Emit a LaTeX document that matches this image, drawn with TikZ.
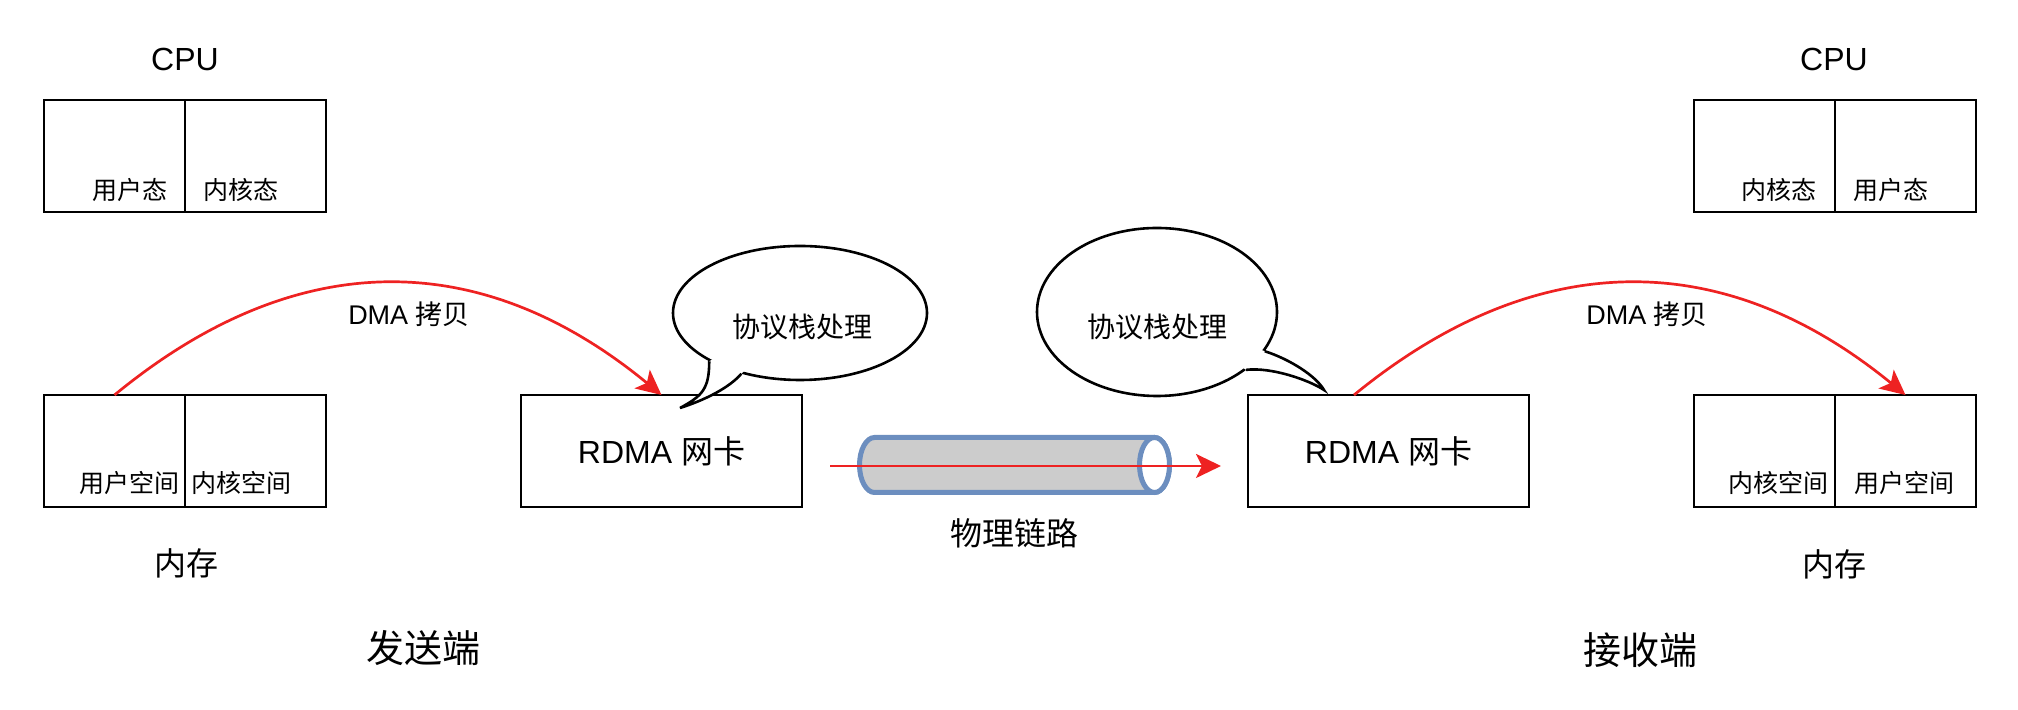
\documentclass[tikz,border=0pt]{standalone}
\usepackage{fontspec}
\setmainfont{Liberation Sans}
\newfontfamily\cjk{Noto Sans CJK SC}
\usepackage{tikz}
\usetikzlibrary{positioning, shapes.geometric, arrows.meta}

\definecolor{dmared}{RGB}{238,34,34}
\definecolor{pipeblue}{RGB}{108,142,191}
\definecolor{pipegray}{RGB}{204,204,204}

\newcommand{\fsz}[1]{\fontsize{#1}{#1}\selectfont}

\begin{document}
\begin{tikzpicture}[x=0.5pt, y=0.5pt,
        cell/.style={draw, line width=1.3pt, minimum width=70.5pt, minimum height=56pt, inner sep=0pt, outer sep=0pt},
        nic/.style={draw, line width=1.3pt, minimum width=140.5pt, minimum height=56pt, inner sep=0pt, outer sep=0pt, font={\fsz{16}}},
        small/.style={font={\fsz{12.5}\cjk}, inner sep=0pt},
        bubble/.style={ellipse, draw, fill=white, line width=1.3pt, inner sep=0pt},
        dma/.style={dmared, line width=1.35pt, -{Stealth[length=12.5pt, width=12pt, inset=3pt]}},
        tail/.style={line width=1.3pt}]
        \useasboundingbox (0,0) rectangle (2018,710);

        % Sender: CPU
        \node[cell] (cpuLu) at (114.5,554) {};
        \node[cell, right=0pt of cpuLu] (cpuLk) {};
        \node[font={\fsz{16}}] (cpuL) at (185,650) {CPU};
        \node[small] (cpuLuTxt) at (130,520) {用户态};
        \node[small] (cpuLkTxt) at (241,520) {内核态};

        % Sender: memory
        \node[cell] (memLu) at (114.5,259) {};
        \node[cell, right=0pt of memLu] (memLk) {};
        \node[small] (memLuTxt) at (129,227) {用户空间};
        \node[small] (memLkTxt) at (241,227) {内核空间};
        \node[font={\fsz{16}\cjk}] (memL) at (186,147) {内存};
        \node[font={\fsz{19}\cjk}] (sender) at (423,62) {发送端};

        % Receiver: CPU
        \node[cell] (cpuRk) at (1764.5,554) {};
        \node[cell, right=0pt of cpuRk] (cpuRu) {};
        \node[font={\fsz{16}}] (cpuR) at (1834,650) {CPU};
        \node[small] (cpuRkTxt) at (1779,520) {内核态};
        \node[small] (cpuRuTxt) at (1891,520) {用户态};

        % Receiver: memory
        \node[cell] (memRk) at (1764.5,259) {};
        \node[cell, right=0pt of memRk] (memRu) {};
        \node[small] (memRkTxt) at (1778,227) {内核空间};
        \node[small] (memRuTxt) at (1904,227) {用户空间};
        \node[font={\fsz{16}\cjk}] (memR) at (1834,146) {内存};
        \node[font={\fsz{19}\cjk}] (receiver) at (1640,60) {接收端};

        % RDMA NICs
        \node[nic] (nicL) at (661.5,259) {RDMA {\cjk 网卡}};
        \node[nic] (nicR) at (1388.5,259) {RDMA {\cjk 网卡}};

        % Physical link
        \filldraw[draw=pipeblue, fill=pipegray, line width=2.5pt]
            (1154.5,272.5) -- (874.5,272.5)
            arc[start angle=90, end angle=270, x radius=7.5pt, y radius=13.75pt]
            -- (1154.5,217.5)
            arc[start angle=-90, end angle=90, x radius=7.5pt, y radius=13.75pt] -- cycle;
        \filldraw[draw=pipeblue, fill=white, line width=2.5pt] (1154.5,245) ellipse[x radius=7.5pt, y radius=13.75pt];
        \node[font={\fsz{16}\cjk}] (linkTxt) at (1014,177) {物理链路};
        \draw[dma] ([shift={(14pt,-7.5pt)}]nicL.east) -- ([shift={(-13.5pt,-7.5pt)}]nicR.west);

        % Protocol stack bubbles
        \node[bubble, minimum width=127pt, minimum height=67pt] (stackL) at (800,397) {};
        \coordinate (tipL) at ([shift={(9.25pt,-6.5pt)}]nicL.north);
        \fill[white] (stackL.208) .. controls +(0,-28) and +(22,12) .. (tipL)
            .. controls +(25,8) and +(-12,-14) .. (stackL.226) -- (stackL.center) -- cycle;
        \draw[tail] (stackL.208) .. controls +(0,-28) and +(22,12) .. (tipL)
            .. controls +(25,8) and +(-12,-14) .. (stackL.226);
        \node[font={\fsz{14}\cjk}] (stackLTxt) at (802,383) {协议栈处理};

        \node[bubble, minimum width=120pt, minimum height=84pt] (stackR) at (1157,398) {};
        \coordinate (tipR) at ([shift={(38pt,2.5pt)}]nicR.north west);
        \fill[white] (stackR.340) .. controls +(25,-8) and +(-8,14) .. (tipR)
            .. controls +(-15,10) and +(25,3) .. (stackR.327) -- (stackR.center) -- cycle;
        \draw[tail] (stackR.340) .. controls +(25,-8) and +(-8,14) .. (tipR)
            .. controls +(-15,10) and +(25,3) .. (stackR.327);
        \node[font={\fsz{14}\cjk}] (stackRTxt) at (1157,383) {协议栈处理};

        % DMA copies
        \draw[dma] (memLu.north) .. controls +(181,149) and +(-181,149) .. (nicL.north);
        \node[font={\fsz{13.5}}] (dmaL) at (409,396) {DMA {\cjk 拷贝}};
        \draw[dma] ([xshift=-17.25pt]nicR.north) .. controls +(182,149) and +(-182,149) .. (memRu.north);
        \node[font={\fsz{13.5}}] (dmaR) at (1647,396) {DMA {\cjk 拷贝}};
\end{tikzpicture}
\end{document}
